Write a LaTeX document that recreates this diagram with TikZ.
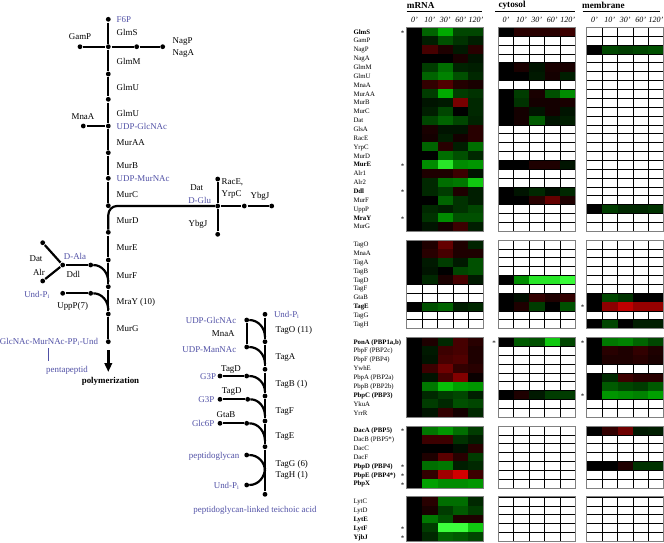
\documentclass[tikz,border=0pt]{standalone}
\usepackage{fontspec}
\setmainfont{Liberation Serif}
\usetikzlibrary{arrows.meta}
\definecolor{pblue}{RGB}{80,80,165}
\definecolor{hmframe}{RGB}{128,128,128}
\def\cw{15.4}
\def\rh{8.86}
\def\ytop{27.3}
\newcommand\hmcell[3]{%
  \ifnum#3<0
    \edef\hmtmp{\noexpand\definecolor{tmpc}{RGB}{\the\numexpr 0-(#3)\relax,0,0}}%
  \else\ifnum#3>180
    \edef\hmtmp{\noexpand\definecolor{tmpc}{RGB}{\the\numexpr(#3-180)*4/5\relax,#3,\the\numexpr(#3-180)*4/5\relax}}%
  \else
    \edef\hmtmp{\noexpand\definecolor{tmpc}{RGB}{0,#3,0}}%
  \fi\fi
  \hmtmp
  \fill[tmpc] ({#1},{#2}) rectangle ++({\cw+0.3},{\rh+0.3});}
\newcommand\hmrow[3]{\foreach \v [count=\ci from 0] in #3 {\hmcell{#1+\ci*\cw}{\ytop+#2*\rh}{\v}}}
\newcommand\hmwhite[3]{\foreach \rr in {#2,...,#3}{\foreach \ci in {0,...,4}{\filldraw[fill=white,draw=black,line width=0.5pt] ({#1+\ci*\cw},{\ytop+\rr*\rh}) rectangle ++(\cw,\rh);}}}
\newcommand\hmframes[1]{\foreach \a/\b in {0/22,24/33,35/43,45/51,53/57}{\draw[hmframe,line width=0.8pt] ({#1},{\ytop+\a*\rh}) rectangle ++({5*\cw},{(\b-\a+1)*\rh});}}
\def\mrnadata{0/{0,100,170,70,70},1/{0,30,80,50,30},2/{0,-70,-30,25,-40},3/{0,0,0,-25,20},
4/{0,60,110,35,30},5/{0,100,130,80,40},6/{0,-50,-80,-35,-25},7/{0,60,170,60,50},
8/{0,20,25,-120,40},9/{0,30,70,0,40},10/{0,70,100,70,35},11/{0,-25,20,20,-40},
12/{0,-20,30,-20,-40},13/{0,100,-40,30,110},14/{0,0,110,80,40},15/{0,140,230,140,150},
16/{0,-30,-30,-60,20},17/{0,40,110,120,200},18/{0,40,60,-30,30},19/{0,0,100,50,30},
20/{0,40,30,50,70},21/{0,50,140,80,80},22/{0,20,-20,-60,30},
24/{0,-30,-100,-30,35},25/{0,-40,-70,-30,-30},26/{0,25,60,25,80},27/{0,20,0,70,80},
28/{0,40,-25,-70,25},31/{0,80,100,30,40},
35/{0,-30,40,-70,-40},36/{0,25,-60,-70,-30},37/{0,20,-70,-80,-30},38/{0,-60,-110,-50,-40},
39/{0,20,-70,-130,-10},40/{0,120,190,160,150},41/{0,40,60,70,30},42/{0,60,40,80,70},
43/{0,20,-50,-20,40},
45/{0,120,150,110,60},46/{0,-60,-60,50,30},47/{0,0,0,15,-40},48/{0,-30,-90,-40,60},
49/{0,110,120,30,40},50/{0,-50,-160,-210,-60},51/{0,160,140,140,150},
53/{0,-40,110,110,40},54/{0,-25,60,90,60},55/{0,120,80,-30,-30},56/{0,60,255,255,200},
57/{0,40,100,90,70}}
\def\cytodata{0/{0,-40,-40,-40,-60},4/{0,-25,20,-25,-25},5/{0,0,25,-20,30},
7/{0,60,-25,80,140},8/{0,50,-20,-20,-25},9/{0,-20,20,-20,20},10/{0,-20,90,20,30},
15/{0,0,-30,-30,20},18/{0,20,40,15,40},19/{0,0,-40,-100,-30},
28/{0,140,230,230,250},30/{0,15,-50,-30,-50},31/{0,-30,60,0,80},
35/{0,90,80,200,70},41/{0,-30,25,60,60}}
\def\membdata{2/{0,70,60,70,80},20/{0,60,40,40,50},30/{0,70,50,0,0},
31/{0,-140,-190,-150,-150},33/{0,70,0,30,30},35/{0,120,130,100,70},
36/{0,-40,-30,-50,-30},37/{0,-30,-30,-40,-25},39/{0,40,-60,-40,-40},
40/{0,90,70,60,90},41/{0,150,140,130,160},45/{0,-50,-110,25,30},49/{0,0,-30,50,50}}
\begin{document}
\begin{tikzpicture}[x=1pt,y=-1pt,
  pw/.style={line width=2.2pt,shorten <=0.6pt,shorten >=0.6pt},
  pwc/.style={line width=2.2pt},
  dot/.style={circle,fill=black,inner sep=0pt,minimum size=4.8pt},
  lbl/.style={font=\fontsize{8.9}{10}\selectfont,inner sep=0.5pt,text height=6pt,text depth=0pt},
  blbl/.style={lbl,text=pblue},
  hml/.style={font=\fontsize{6.8}{7}\selectfont,inner sep=0pt},
  astk/.style={font=\fontsize{7}{7}\selectfont,inner sep=0pt,anchor=base},
  colh/.style={font=\itshape\fontsize{8}{9}\selectfont,inner sep=0pt},
  hdr/.style={font=\bfseries\fontsize{9.2}{10}\selectfont,inner sep=0pt,anchor=west},
  hdrline/.style={line width=1pt}]
\useasboundingbox (0,0) rectangle (664,542);
% ---------------- left pathway ----------------
\foreach \n/\yy in {0/19.3,1/46.7,2/74,3/99.3,4/126,5/152.7,6/178.3,7/205.7,8/232.3,9/260,10/286.7,11/314,12/341.7}
  \node[dot] (m\n) at (108.3,\yy) {};
\foreach \a/\b in {0/1,1/2,2/3,3/4,4/5,5/6,6/7,8/9,9/10,10/11,11/12}
  \draw[pw] (m\a) -- (m\b);
\node[dot] (gamp) at (80,46.7) {};
\node[dot] (nag1) at (136.7,46.7) {};
\node[dot] (nag2) at (162.7,46.7) {};
\node[dot] (mnaa) at (83.3,126) {};
\draw[pw] (gamp) -- (m1);
\draw[pw] (m1) -- (nag1);
\draw[pw] (nag1) -- (nag2);
\draw[pw] (mnaa) -- (m4);
% D-Glu branch
\node[dot] (dglu) at (217.7,206) {};
\node[dot] (racet) at (217.7,179) {};
\node[dot] (yb1) at (244.3,206) {};
\node[dot] (yb2) at (271.7,206) {};
\node[dot] (ybd) at (217.7,234.3) {};
\draw[pw] (racet) -- (dglu);
\draw[pw] (dglu) -- (yb1);
\draw[pw] (yb1) -- (yb2);
\draw[pw] (dglu) -- (ybd);
\coordinate (dgA) at (117,206);
\coordinate (dgB) at (108.3,215);
\draw[pwc] (dglu) -- (dgA) to[out=180,in=90] (dgB) -- (m8);
% D-Ala branch
\node[dot] (datd) at (42.7,242.7) {};
\node[dot] (alrd) at (42.7,281) {};
\node[dot] (dala) at (62.7,265) {};
\node[dot] (ddld) at (90.7,265) {};
\coordinate (ddlj) at (108.3,282);
\draw[pw] (datd) -- (dala);
\draw[pw] (alrd) -- (dala);
\draw[pw] (dala) -- (ddld);
\draw[pwc] (ddld) to[out=0,in=90] (ddlj);
% Und-P branch
\node[dot] (undd) at (62.7,293.3) {};
\node[dot] (upp) at (90.7,293.3) {};
\coordinate (uppj) at (108.3,310);
\draw[pw] (undd) -- (upp);
\draw[pwc] (upp) to[out=0,in=90] (uppj);
% arrow
\coordinate (ars) at (108.3,350);
\coordinate (are) at (108.3,372);
\draw[line width=2.7pt,-{Triangle[length=9pt,width=7.5pt]}] (ars) -- (are);
\coordinate (bar1) at (48.3,348.3);
\coordinate (bar2) at (48.3,361);
\draw[pblue,line width=1.3pt] (bar1) -- (bar2);
% labels left pathway
\node[blbl,anchor=west] (lf6p) at (116,19.3) {F6P};
\node[lbl,anchor=west] (lglms) at (116,32) {GlmS};
\node[lbl] (lgamp) at (80,36.7) {GamP};
\node[lbl,anchor=west] (lnagp) at (172,40) {NagP};
\node[lbl,anchor=west] (lnaga) at (172,52.3) {NagA};
\node[lbl,anchor=west] (lglmm) at (116,61.7) {GlmM};
\node[lbl,anchor=west] (lglmu1) at (116,87.3) {GlmU};
\node[lbl,anchor=west] (lglmu2) at (116,113.3) {GlmU};
\node[lbl] (lmnaa) at (83,116.7) {MnaA};
\node[blbl,anchor=west] (ludpg) at (116,126) {UDP-GlcNAc};
\node[lbl,anchor=west] (lmuraa) at (116,142.3) {MurAA};
\node[lbl,anchor=west] (lmurb) at (116,165.7) {MurB};
\node[blbl,anchor=west] (ludpm) at (116,178.3) {UDP-MurNAc};
\node[lbl,anchor=west] (lmurc) at (116,194) {MurC};
\node[lbl,anchor=west] (lmurd) at (116,220) {MurD};
\node[lbl,anchor=west] (lmure) at (116,247.7) {MurE};
\node[lbl,anchor=west] (lmurf) at (116,275) {MurF};
\node[lbl,anchor=west] (lmray) at (116,301.7) {MraY (10)};
\node[lbl,anchor=west] (lmurg) at (116,328.3) {MurG};
\node[lbl,font=\bfseries\fontsize{8.9}{10}\selectfont] (lpoly) at (110.5,380) {polymerization};
\node[lbl] (ldat1) at (196.7,187.3) {Dat};
\node[blbl,anchor=east] (ldglu) at (211.7,200) {D-Glu};
\node[lbl,anchor=west] (lrace) at (221,181.7) {RacE,};
\node[lbl,anchor=west] (lyrpc) at (221,193.3) {YrpC};
\node[lbl] (lybgj1) at (260,195.7) {YbgJ};
\node[lbl] (lybgj2) at (198,223.3) {YbgJ};
\node[lbl] (ldat2) at (36,258.3) {Dat};
\node[blbl] (ldala) at (75,256.7) {D-Ala};
\node[lbl] (lalr) at (39,272.3) {Alr};
\node[lbl] (lddl) at (73.3,274) {Ddl};
\node[blbl] (lundp) at (37,294) {Und-P\textsubscript{i}};
\node[lbl] (luppp) at (72.7,305) {UppP(7)};
\node[blbl] (llipid) at (49,341.7) {GlcNAc-MurNAc-PP\textsubscript{i}-Und};
\node[blbl] (lpenta) at (67,369.3) {pentapeptid};
% ---------------- teichoic acid pathway ----------------
\foreach \n/\yy in {0/314.3,1/341.7,2/369.3,3/396,4/421,5/446.7,6/494.3}
  \node[dot] (t\n) at (265,\yy) {};
\foreach \a/\b in {0/1,1/2,2/3,3/4,4/5,5/6}
  \draw[pw] (t\a) -- (t\b);
\node[dot] (u1) at (246.7,320) {};
\node[dot] (u2) at (246.7,347) {};
\draw[pw] (u1) -- (u2);
\coordinate (tj1) at (265,337);
\coordinate (tj2) at (265,364);
\draw[pwc] (u1) to[out=0,in=90] (tj1);
\draw[pwc] (u2) to[out=0,in=90] (tj2);
\node[dot] (g1a) at (220,376) {};
\node[dot] (g1b) at (246.7,376) {};
\node[dot] (g2a) at (220,399.3) {};
\node[dot] (g2b) at (247.7,399.3) {};
\node[dot] (g3a) at (220,423.3) {};
\node[dot] (g3b) at (246.7,423.3) {};
\draw[pw] (g1a) -- (g1b);
\draw[pw] (g2a) -- (g2b);
\draw[pw] (g3a) -- (g3b);
\coordinate (tj3) at (265,392);
\coordinate (tj4) at (265,416);
\coordinate (tj5) at (265,441);
\draw[pwc] (g1b) to[out=0,in=90] (tj3);
\draw[pwc] (g2b) to[out=0,in=90] (tj4);
\draw[pwc] (g3b) to[out=0,in=90] (tj5);
\node[dot] (pgd) at (246.7,455) {};
\node[dot] (undb) at (246.7,485) {};
\coordinate (tj6) at (265,471);
\coordinate (tj7) at (265,468);
\draw[pwc] (pgd) to[out=0,in=90] (tj6);
\draw[pwc] (undb) to[out=0,in=-90] (tj7);
\node[blbl,anchor=west] (ltund) at (273.3,314.3) {Und-P\textsubscript{i}};
\node[lbl,anchor=west] (ltago) at (275,329.3) {TagO (11)};
\node[lbl,anchor=west] (ltaga) at (275,356.7) {TagA};
\node[lbl,anchor=west] (ltagb) at (275,383.3) {TagB (1)};
\node[lbl,anchor=west] (ltagf) at (275,410) {TagF};
\node[lbl,anchor=west] (ltage) at (275,435) {TagE};
\node[lbl,anchor=west] (ltagg) at (275,463.3) {TagG (6)};
\node[lbl,anchor=west] (ltagh) at (275,474) {TagH (1)};
\node[blbl,anchor=east] (ltudpg) at (237,320) {UDP-GlcNAc};
\node[lbl] (ltmnaa) at (223.3,333.3) {MnaA};
\node[blbl,anchor=east] (ltudpm) at (237,349.3) {UDP-ManNAc};
\node[lbl] (ltagd1) at (231,368.3) {TagD};
\node[blbl,anchor=east] (lg3p1) at (216.7,376) {G3P};
\node[lbl] (ltagd2) at (231.7,390) {TagD};
\node[blbl,anchor=east] (lg3p2) at (215,399.3) {G3P};
\node[lbl] (lgtab) at (226,414) {GtaB};
\node[blbl,anchor=east] (lglc6p) at (215,423.3) {Glc6P};
\node[blbl,anchor=east] (lpg) at (240,455) {peptidoglycan};
\node[blbl,anchor=east] (ltund2) at (240,485) {Und-P\textsubscript{i}};
\node[blbl] (lpgta) at (255,509.3) {peptidoglycan-linked teichoic acid};
% ---------------- heat map ----------------
\foreach \r/\vals in \mrnadata {\hmrow{406.7}{\r}{\vals}}
\foreach \r/\vals in \cytodata {\hmrow{498.3}{\r}{\vals}}
\foreach \r/\vals in \membdata {\hmrow{586.7}{\r}{\vals}}
\foreach \a/\b in {29/30,32/33} {\hmwhite{406.7}{\a}{\b}}
\foreach \a/\b in {1/3,6/6,11/14,16/17,20/22,24/27,29/29,32/33,36/40,42/43,45/51,53/57} {\hmwhite{498.3}{\a}{\b}}
\foreach \a/\b in {0/1,3/19,21/22,24/29,32/32,38/38,42/43,46/48,50/51,53/57} {\hmwhite{586.7}{\a}{\b}}
\hmframes{406.7}
\hmframes{498.3}
\hmframes{586.7}
% headers
\node[hdr] (hmrna) at (406.7,5) {mRNA};
\node[hdr] (hcyto) at (498.3,5) {cytosol};
\node[hdr] (hmemb) at (582,5) {membrane};
\draw[hdrline] (406.7,11.7) -- (481.7,11.7);
\draw[hdrline] (495,11.7) -- (575,11.7);
\draw[hdrline] (582.7,11.7) -- (660,11.7);
\foreach \xl/\nm in {406.7/m,498.3/c,586.7/b}
  \foreach \t [count=\ci from 0] in {0',10',30',60',120'}
    \node[colh] (col\nm\ci) at ({\xl+(\ci+0.5)*\cw},19.5) {\t};
% gene labels
\foreach \r/\t/\b in {0/GlmS/1,1/GamP/0,2/NagP/0,3/NagA/0,4/GlmM/0,5/GlmU/0,6/MnaA/0,7/MurAA/0,
  8/MurB/0,9/MurC/0,10/Dat/0,11/GlsA/0,12/RacE/0,13/YrpC/0,14/MurD/0,15/MurE/1,16/Alr1/0,
  17/Alr2/0,18/Ddl/1,19/MurF/0,20/UppP/0,21/MraY/1,22/MurG/0,
  24/TagO/0,25/MnaA/0,26/TagA/0,27/TagB/0,28/TagD/0,29/TagF/0,30/GtaB/0,31/TagE/1,32/TagG/0,33/TagH/0,
  35/{PonA (PBP1a,b)}/1,36/{PbpF (PBP2c)}/0,37/{PbpF (PBP4)}/0,38/YwhE/0,39/{PbpA (PBP2a)}/0,
  40/{PbpB (PBP2b)}/0,41/{PbpC (PBP3)}/1,42/YkuA/0,43/YrrR/0,
  45/{DacA (PBP5)}/1,46/{DacB (PBP5*)}/0,47/DacC/0,48/DacF/0,49/{PbpD (PBP4)}/1,50/{PbpE (PBP4*)}/1,51/PbpX/1,
  53/LytC/0,54/LytD/0,55/LytE/1,56/LytF/1,57/YjbJ/1}
  \node[hml,anchor=base west] (g\r) at (353.3,{\ytop+(\r+0.5)*\rh+2.3}) {\ifnum\b=1 \bfseries\fi\t};
\foreach \r in {0,15,18,21,45,49,50,51,56,57}
  \node[astk] (sm\r) at (402.7,{\ytop+(\r+0.5)*\rh+3.4}) {*};
\node[astk] (sc35) at (494,{\ytop+35.5*\rh+3.4}) {*};
\foreach \r in {31,35,41}
  \node[astk] (sb\r) at (582.7,{\ytop+(\r+0.5)*\rh+3.4}) {*};
\end{tikzpicture}
\end{document}
